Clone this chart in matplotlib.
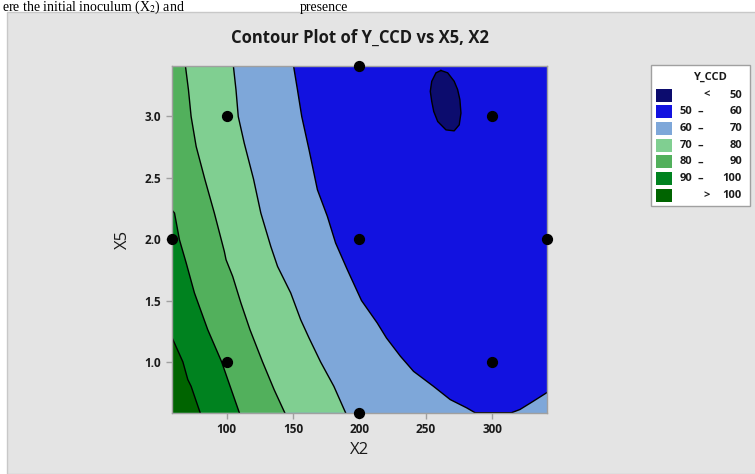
import matplotlib
matplotlib.use("Agg")
import matplotlib.pyplot as plt
from matplotlib.patches import Rectangle

plt.rcParams['font.family'] = ['Open Sans', 'DejaVu Sans']

# axis ranges of the CCD (alpha = 1.414)
x2_lim = (58.58, 341.42)
x5_lim = (0.586, 3.414)

# contour levels and band colours (lowest band first)
levels = [50, 60, 70, 80, 90, 100]
band_colors = ['#0c0c6e', '#1212e0', '#7ea7d9', '#80cf91', '#52b05c', '#00821f', '#006400']

# contour lines (X2, X5)
line50_x = [261.3, 257.6, 254.4, 253.3, 254.4, 255.9, 258.9, 265.1, 271.3, 275.1,
            276.4, 275.6, 273.9, 271.3, 266.4, 261.3]
line50_y = [3.375, 3.356, 3.287, 3.205, 3.123, 3.041, 2.959, 2.891, 2.883, 2.932,
            3.028, 3.137, 3.219, 3.287, 3.356, 3.375]

line60_x = [150.3, 153.3, 156.5, 162.0, 168.3, 175.8, 182.0, 190.8, 201.5, 213.3,
            220.3, 230.8, 240.7, 255.7, 268.3, 280.8, 287.0, 314.5, 320.8, 330.8, 341.42]
line60_y = [3.414, 3.217, 3.0, 2.729, 2.403, 2.186, 1.969, 1.752, 1.500, 1.318,
            1.195, 1.046, 0.923, 0.801, 0.693, 0.625, 0.586, 0.586, 0.612, 0.679, 0.752]

line70_x = [105.0, 107.0, 108.7, 113.2, 120.2, 125.7, 133.2, 138.3, 148.2, 155.7,
            162.0, 170.7, 180.7, 189.5]
line70_y = [3.414, 3.217, 3.0, 2.783, 2.49, 2.213, 1.941, 1.778, 1.562, 1.344,
            1.195, 1.0, 0.801, 0.586]

line80_x = [68.9, 71.2, 73.2, 77.0, 83.5, 90.7, 98.2, 99.5, 104.5, 110.7,
            117.5, 127.0, 135.7, 143.7]
line80_y = [3.414, 3.217, 3.0, 2.756, 2.49, 2.213, 1.901, 1.833, 1.697, 1.48,
            1.263, 1.0, 0.774, 0.586]

line90_x = [58.58, 60.7, 64.4, 69.5, 75.7, 85.7, 96.2, 100.8, 109.5]
line90_y = [2.24, 2.213, 1.996, 1.806, 1.562, 1.263, 1.0, 0.856, 0.586]

line100_x = [58.58, 67.0, 70.7, 73.2, 80.0]
line100_y = [1.204, 1.0, 0.856, 0.801, 0.586]

# design points
pts_x2 = [200, 100, 300, 58.58, 200, 341.42, 100, 300, 200]
pts_x5 = [3.414, 3.0, 3.0, 2.0, 2.0, 2.0, 1.0, 1.0, 0.586]

W, H = 755, 474
fig = plt.figure(figsize=(W / 100, H / 100), dpi=100)
fig.patch.set_facecolor('white')
panel = Rectangle((7 / W, 0), 1, 1 - 12 / H, transform=fig.transFigure,
                  facecolor='#e4e4e4', edgecolor='#c8c8c8', lw=1, zorder=-5)
fig.patches.append(panel)

# line of document text above the graph
fig.text(2 / W, 1 - 11 / H, 'ere the initial inoculum (X$_2$) and', family='Liberation Serif',
         fontsize=10, va='baseline', ha='left', math_fontfamily='stix', zorder=6)
fig.text(300 / W, 1 - 11 / H, 'presence', family='Liberation Serif',
         fontsize=10, va='baseline', ha='left', zorder=6)

ax = fig.add_axes([171.7 / W, 1 - 412.7 / H, (547.3 - 171.7) / W, (412.7 - 65.7) / H])
ax.set_xlim(*x2_lim)
ax.set_ylim(*x5_lim)
ax.set_facecolor(band_colors[2])

xmin, xmax = x2_lim
ymin, ymax = x5_lim

# Z < 60 region
ax.fill(line60_x + [xmax], line60_y + [ymax], color=band_colors[1], lw=0)
ax.fill(line50_x, line50_y, color=band_colors[0], lw=0)
# Z > 70, > 80, > 90, > 100 regions
ax.fill(line70_x + [xmin, xmin], line70_y + [ymin, ymax], color=band_colors[3], lw=0)
ax.fill(line80_x + [xmin, xmin], line80_y + [ymin, ymax], color=band_colors[4], lw=0)
ax.fill(line90_x + [xmin], line90_y + [ymin], color=band_colors[5], lw=0)
ax.fill(line100_x + [xmin], line100_y + [ymin], color=band_colors[6], lw=0)

for lx, ly in [(line50_x, line50_y), (line60_x, line60_y), (line70_x, line70_y),
               (line80_x, line80_y), (line90_x, line90_y), (line100_x, line100_y)]:
    ax.plot(lx, ly, color='black', lw=1.0)

ax.scatter(pts_x2, pts_x5, s=50, color='black', zorder=5, clip_on=False)

ax.set_xticks([100, 150, 200, 250, 300])
ax.set_yticks([1.0, 1.5, 2.0, 2.5, 3.0])
ax.set_yticklabels(['1.0', '1.5', '2.0', '2.5', '3.0'])
ax.tick_params(direction='out', length=4.5, width=1, color='#a0a0a0', labelsize=8.5,
               labelcolor='#1a1a1a', pad=3)
for lab in ax.get_xticklabels() + ax.get_yticklabels():
    lab.set_fontweight('bold')
for sp in ax.spines.values():
    sp.set_color('#a0a0a0')
    sp.set_linewidth(1)

ax.set_xlabel('X2', fontsize=12, color='#1a1a1a')
ax.set_ylabel('X5', fontsize=12, color='#1a1a1a')
ax.xaxis.set_label_coords(0.5, -0.085)
ax.yaxis.set_label_coords(-0.108, 0.5)

fig.text(359.5 / W, 1 - 38 / H, 'Contour Plot of Y_CCD vs X5, X2', ha='center', va='center',
         fontsize=12, fontweight='bold', color='#1a1a1a')

# legend
def fx(px):
    return px / W

def fy(py):
    return 1 - py / H

fig.patches.append(Rectangle((fx(651), fy(206)), (750 - 651) / W, (206 - 65) / H,
                             transform=fig.transFigure, facecolor='white',
                             edgecolor='#a0a0a0', lw=1, zorder=1))
fig.text(fx(710), fy(77), 'Y_CCD', ha='center', va='center', fontsize=8,
         fontweight='bold', color='#1a1a1a')
for i, col in enumerate(band_colors):
    cy = 95 + i * 16.7
    fig.patches.append(Rectangle((fx(656), fy(cy + 6.5)), 16 / W, 13 / H,
                                 transform=fig.transFigure, facecolor=col,
                                 edgecolor='none', zorder=2))
    kw = dict(va='center', fontsize=8, fontweight='bold', color='#1a1a1a')
    if i == 0:
        fig.text(fx(706.7), fy(cy), '<', ha='center', **kw)
        fig.text(fx(742), fy(cy), str(levels[0]), ha='right', **kw)
    elif i == len(band_colors) - 1:
        fig.text(fx(706.7), fy(cy), '>', ha='center', **kw)
        fig.text(fx(742), fy(cy), str(levels[-1]), ha='right', **kw)
    else:
        fig.text(fx(692), fy(cy), str(levels[i - 1]), ha='right', **kw)
        fig.text(fx(700.7), fy(cy), '\u2013', ha='center', **kw)
        fig.text(fx(742), fy(cy), str(levels[i]), ha='right', **kw)

fig.savefig('out.png', dpi=100)
